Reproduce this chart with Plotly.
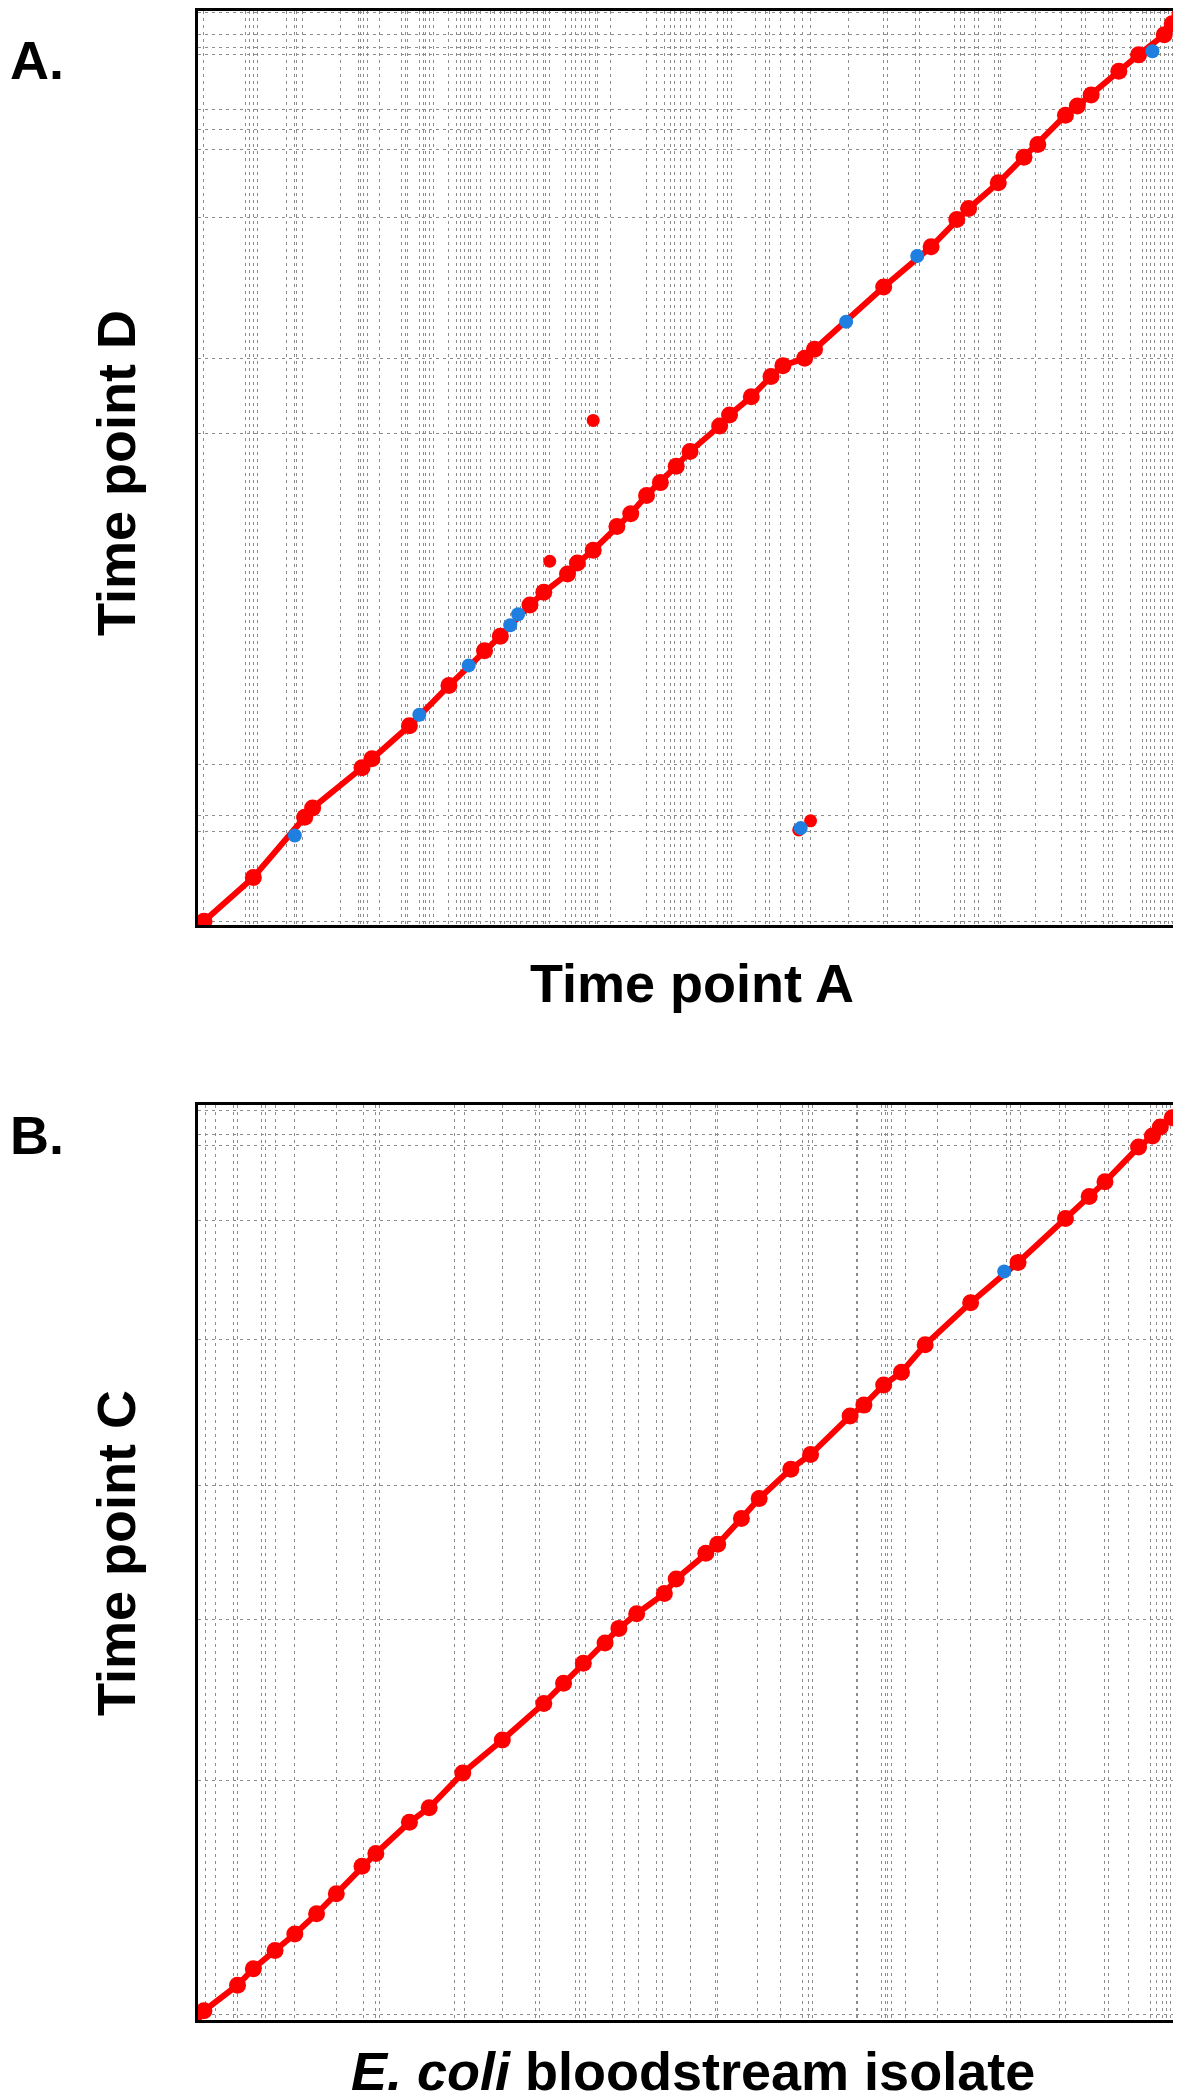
import plotly.graph_objects as go

# ---------------- Panel A data (positions in Mb) ----------------
a_red_x = [0.03, 0.28, 0.54, 0.58, 0.83, 0.88, 1.07, 1.27, 1.45, 1.53, 1.68, 1.75, 1.87, 1.92,
           2.00, 2.12, 2.19, 2.27, 2.34, 2.42, 2.49, 2.64, 2.69, 2.80, 2.90, 2.96, 3.07, 3.12,
           3.47, 3.71, 3.84, 3.90, 4.05, 4.18, 4.25, 4.39, 4.45, 4.52, 4.66, 4.76, 4.89, 4.93, 4.97]
a_red_y = [0.02, 0.26, 0.59, 0.64, 0.86, 0.91, 1.09, 1.31, 1.50, 1.58, 1.75, 1.82, 1.92, 1.98,
           2.05, 2.18, 2.25, 2.35, 2.42, 2.51, 2.59, 2.73, 2.79, 2.89, 3.00, 3.06, 3.10, 3.15,
           3.49, 3.71, 3.86, 3.92, 4.06, 4.20, 4.27, 4.43, 4.48, 4.54, 4.67, 4.76, 4.87, 4.93, 4.98]
a_off_red_x = [1.78, 2.00, 3.04, 3.10]
a_off_red_y = [1.99, 2.76, 0.52, 0.57]
a_blue_x = [0.49, 1.12, 1.37, 1.58, 1.62, 3.28, 3.64, 4.83, 3.05]
a_blue_y = [0.49, 1.15, 1.42, 1.64, 1.70, 3.30, 3.66, 4.78, 0.53]

a_grid_x = [0.03, 0.24, 0.26, 0.28, 0.30, 0.45, 0.49, 0.50, 0.53, 0.72, 0.81, 0.82, 0.84, 0.86,
            0.92, 1.03, 1.05, 1.06, 1.12, 1.14, 1.15, 1.17, 1.19, 1.27, 1.31, 1.33, 1.35, 1.37,
            1.38, 1.41, 1.43, 1.48, 1.50, 1.53, 1.55, 1.58, 1.61, 1.63, 1.66, 1.70, 1.72, 1.75,
            1.76, 1.78, 1.86, 1.89, 1.91, 1.94, 1.96, 1.98, 2.01, 2.02, 2.09, 2.27, 2.32, 2.36,
            2.39, 2.41, 2.44, 2.47, 2.49, 2.54, 2.57, 2.63, 2.66, 2.68, 2.70, 2.82, 2.87, 2.89,
            2.95, 3.02, 3.06, 3.10, 3.29, 3.47, 3.49, 3.63, 3.65, 3.83, 3.86, 3.88, 3.93, 3.95,
            4.03, 4.05, 4.06, 4.24, 4.37, 4.47, 4.49, 4.58, 4.61, 4.63, 4.72, 4.78, 4.80, 4.82,
            4.84, 4.87, 4.89, 4.91, 4.93, 4.96, 4.98]
a_grid_y = [0.02, 0.51, 0.60, 0.88, 2.69, 3.10, 3.87, 4.24, 4.35, 4.46, 4.76, 4.80, 4.87, 4.99]

# ---------------- Panel B data (positions in Mb) ----------------
b_red_x = [0.03, 0.20, 0.28, 0.39, 0.49, 0.60, 0.70, 0.83, 0.90, 1.07, 1.17, 1.34, 1.54, 1.75,
           1.85, 1.95, 2.06, 2.13, 2.22, 2.36, 2.42, 2.57, 2.63, 2.75, 2.84, 3.00, 3.10, 3.30,
           3.37, 3.47, 3.56, 3.68, 3.91, 4.15, 4.39, 4.51, 4.59, 4.76, 4.83, 4.87, 4.93, 4.98]
b_red_y = [0.05, 0.19, 0.28, 0.38, 0.47, 0.58, 0.69, 0.84, 0.91, 1.08, 1.16, 1.35, 1.53, 1.73,
           1.84, 1.95, 2.06, 2.14, 2.22, 2.33, 2.41, 2.55, 2.60, 2.74, 2.85, 3.01, 3.09, 3.30,
           3.36, 3.47, 3.54, 3.69, 3.92, 4.14, 4.38, 4.50, 4.58, 4.77, 4.83, 4.88, 4.93, 4.99]
b_blue_x = [4.08]
b_blue_y = [4.09]

b_grid_x = [0.04, 0.09, 0.18, 0.20, 0.32, 0.34, 0.39, 0.49, 0.70, 0.84, 0.90, 0.92, 1.30, 1.35,
            1.54, 1.71, 1.73, 1.91, 1.93, 1.96, 2.10, 2.16, 2.23, 2.32, 2.35, 2.49, 2.62, 2.63,
            2.83, 2.95, 3.06, 3.09, 3.11, 3.33, 3.34, 3.46, 3.48, 3.49, 3.51, 3.58, 3.74, 3.91,
            4.09, 4.11, 4.16, 4.36, 4.39, 4.59, 4.61, 4.71, 4.82, 4.85, 4.88, 4.90, 4.92, 4.94,
            4.96, 4.98]
b_grid_y = [0.03, 1.31, 2.19, 2.92, 3.72, 4.37, 4.78, 4.84, 4.97]

RED = "#ff0000"
BLUE = "#1f7fe0"
GRID = "#8c8c8c"
FONT = "Liberation Sans, Arial, Helvetica, sans-serif"

fig = go.Figure()

def add_panel(xa, ya, red_x, red_y, blue_x, blue_y, off_x=None, off_y=None):
    fig.add_trace(go.Scatter(x=[0] + red_x + [5], y=[0] + red_y + [5], mode="lines",
                             line=dict(color=RED, width=6), xaxis=xa, yaxis=ya,
                             showlegend=False, hoverinfo="skip"))
    fig.add_trace(go.Scatter(x=red_x, y=red_y, mode="markers",
                             marker=dict(color=RED, size=17, line=dict(width=0)),
                             xaxis=xa, yaxis=ya, showlegend=False))
    if off_x:
        fig.add_trace(go.Scatter(x=off_x, y=off_y, mode="markers",
                                 marker=dict(color=RED, size=13, line=dict(width=0)),
                                 xaxis=xa, yaxis=ya, showlegend=False))
    fig.add_trace(go.Scatter(x=blue_x, y=blue_y, mode="markers",
                             marker=dict(color=BLUE, size=14, line=dict(width=0)),
                             xaxis=xa, yaxis=ya, showlegend=False))

add_panel("x", "y", a_red_x, a_red_y, a_blue_x, a_blue_y, a_off_red_x, a_off_red_y)
add_panel("x2", "y2", b_red_x, b_red_y, b_blue_x, b_blue_y)

W, H = 1181, 2097
xdom = [190 / W, 1178 / W]
ydomA = [1 - 917 / H, 1 - 3 / H]
ydomB = [1 - 2012 / H, 1 - 1097 / H]

def axis(dom, vals, anchor):
    return dict(domain=dom, range=[0, 5], tickvals=vals, showticklabels=False, ticks="",
                showgrid=True, gridcolor=GRID, gridwidth=1, griddash="3px,4px",
                zeroline=False, showline=True, linecolor="black", linewidth=3,
                mirror=True, anchor=anchor, fixedrange=True)

fig.update_layout(
    width=W, height=H,
    margin=dict(l=0, r=0, t=0, b=0),
    paper_bgcolor="white", plot_bgcolor="white",
    xaxis=axis(xdom, a_grid_x, "y"),
    yaxis=axis(ydomA, a_grid_y, "x"),
    xaxis2=axis(xdom, b_grid_x, "y2"),
    yaxis2=axis(ydomB, b_grid_y, "x2"),
)

def label(text, x, y, angle=0, xanchor="center"):
    fig.add_annotation(text=text, x=x / W, y=1 - y / H, xref="paper", yref="paper",
                       showarrow=False, textangle=angle, xanchor=xanchor, yanchor="middle",
                       font=dict(family=FONT, size=54, color="black"))

label("<b>A.</b>", 0, 52, xanchor="left")
label("<b>B.</b>", 0, 1127, xanchor="left")
label("<b>Time point D</b>", 108, 465, angle=-90)
label("<b>Time point A</b>", 684, 975)
label("<b>Time point C</b>", 108, 1545, angle=-90)
label("<b><i>E. coli</i> bloodstream isolate</b>", 685, 2063)

fig.write_html("out.html")
